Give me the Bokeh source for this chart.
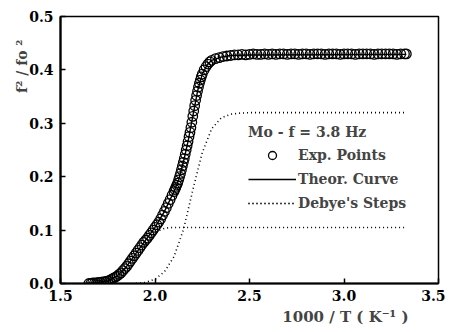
from bokeh.plotting import figure
from bokeh.models import (FixedTicker, Range1d, Legend, LegendItem, Title,
                          NumeralTickFormatter)
from bokeh.embed import file_html
from bokeh.resources import INLINE

# ---------------- data ----------------
exp_x = [1.65, 1.66, 1.67, 1.68, 1.69, 1.70, 1.71, 1.72, 1.73, 1.74,
         1.75, 1.76, 1.77, 1.78, 1.79, 1.80, 1.81, 1.82, 1.83, 1.84,
         1.85, 1.86, 1.87, 1.88, 1.89, 1.90, 1.91, 1.92, 1.93, 1.94,
         1.95, 1.96, 1.97, 1.98, 1.99, 2.00, 2.01, 2.02, 2.03, 2.04,
         2.05, 2.06, 2.07, 2.08, 2.09, 2.10,
         2.105, 2.11, 2.115, 2.12, 2.125, 2.13, 2.135, 2.14, 2.145, 2.15,
         2.155, 2.16, 2.165, 2.17, 2.175, 2.18, 2.185, 2.19, 2.195, 2.20,
         2.205, 2.21, 2.215, 2.22, 2.225, 2.23, 2.235, 2.24, 2.245, 2.25,
         2.26, 2.27, 2.28, 2.29, 2.30, 2.32, 2.34, 2.36, 2.38, 2.40,
         2.42, 2.44, 2.46, 2.48, 2.50, 2.52, 2.54, 2.56, 2.58, 2.60,
         2.62, 2.64, 2.66, 2.68, 2.70, 2.72, 2.74, 2.76, 2.78, 2.80,
         2.82, 2.84, 2.86, 2.88, 2.90, 2.92, 2.94, 2.96, 2.98, 3.00,
         3.02, 3.04, 3.06, 3.08, 3.10, 3.12, 3.14, 3.16, 3.18, 3.20,
         3.22, 3.24, 3.26, 3.28, 3.30, 3.32, 3.33]
exp_y = [0.000, 0.000, 0.001, 0.001, 0.001, 0.002, 0.002, 0.003, 0.003, 0.004,
         0.005, 0.006, 0.008, 0.010, 0.012, 0.014, 0.017, 0.020, 0.024, 0.028,
         0.032, 0.037, 0.042, 0.047, 0.052, 0.057, 0.062, 0.067, 0.072, 0.077,
         0.081, 0.085, 0.090, 0.095, 0.100, 0.105, 0.110, 0.115, 0.121, 0.128,
         0.135, 0.142, 0.150, 0.157, 0.165, 0.172,
         0.176, 0.180, 0.184, 0.188, 0.194, 0.200, 0.206, 0.213, 0.220, 0.227,
         0.234, 0.242, 0.250, 0.258, 0.266, 0.275, 0.283, 0.292, 0.302, 0.313,
         0.323, 0.333, 0.343, 0.352, 0.360, 0.368, 0.375, 0.381, 0.387, 0.392,
         0.400, 0.406, 0.411, 0.415, 0.418, 0.421, 0.423, 0.425, 0.426, 0.427,
         0.428, 0.428, 0.429, 0.428, 0.429, 0.430, 0.429, 0.429, 0.430, 0.429,
         0.430, 0.429, 0.430, 0.430, 0.429, 0.430, 0.430, 0.429, 0.430, 0.430,
         0.429, 0.430, 0.430, 0.430, 0.429, 0.430, 0.430, 0.430, 0.429, 0.430,
         0.430, 0.430, 0.429, 0.430, 0.430, 0.430, 0.430, 0.429, 0.430, 0.430,
         0.430, 0.430, 0.430, 0.429, 0.430, 0.430, 0.430]

theo_x = [1.65, 1.70, 1.75, 1.80, 1.85, 1.90, 1.95, 2.00, 2.05, 2.10,
          2.125, 2.15, 2.175, 2.20, 2.225, 2.25, 2.275, 2.30, 2.35, 2.40,
          2.50, 3.33]
theo_y = [0.000, 0.002, 0.005, 0.014, 0.032, 0.057, 0.081, 0.105, 0.135, 0.172,
          0.194, 0.227, 0.266, 0.313, 0.360, 0.392, 0.409, 0.418, 0.424, 0.427,
          0.428, 0.429]

debye1_x = [1.65, 1.70, 1.75, 1.80, 1.85, 1.90, 1.95, 2.00, 2.03, 2.06,
            2.10, 2.20, 3.33]
debye1_y = [0.001, 0.003, 0.007, 0.014, 0.030, 0.053, 0.075, 0.094, 0.101, 0.104,
            0.105, 0.105, 0.105]

debye2_x = [1.90, 1.95, 2.00, 2.05, 2.10, 2.15, 2.20, 2.25, 2.30, 2.35,
            2.40, 2.45, 2.50, 3.33]
debye2_y = [0.000, 0.002, 0.008, 0.022, 0.050, 0.100, 0.175, 0.245, 0.290, 0.310,
            0.317, 0.319, 0.320, 0.320]

x_ticks = [1.5, 2.0, 2.5, 3.0, 3.5]
y_ticks = [0.0, 0.1, 0.2, 0.3, 0.4, 0.5]

legend_title = "Mo - f = 3.8 Hz"
legend_labels = ["Exp. Points", "Theor. Curve", "Debye's Steps"]
x_label = "1000 / T ( K\u207b\u00b9 )"
y_label = "f\u00b2 / fo \u00b2"

FONT = "DejaVu Serif"

# ---------------- figure ----------------
p = figure(width=445, height=328, output_backend="svg", toolbar_location=None,
           x_range=Range1d(1.5, 3.5), y_range=Range1d(0.0, 0.5),
           min_border_left=60, min_border_right=7, min_border_top=16,
           min_border_bottom=45)
p.xgrid.visible = False
p.ygrid.visible = False
p.outline_line_color = "black"
p.outline_line_width = 1.5
p.outline_line_alpha = 1.0
p.background_fill_color = "white"
p.border_fill_color = "white"

for ax in (p.xaxis[0], p.yaxis[0]):
    ax.axis_line_width = 2.2
    ax.major_tick_in = 5
    ax.major_tick_out = 0
    ax.major_tick_line_width = 1.5
    ax.minor_tick_in = 0
    ax.minor_tick_out = 0
    ax.major_label_text_font = FONT
    ax.major_label_text_font_style = "bold"
    ax.major_label_text_font_size = "14px"
    ax.major_label_text_color = "black"
    ax.formatter = NumeralTickFormatter(format="0.0")

p.xaxis[0].ticker = FixedTicker(ticks=x_ticks)
p.yaxis[0].ticker = FixedTicker(ticks=y_ticks)
p.xaxis[0].major_label_standoff = 6
p.yaxis[0].major_label_standoff = 7

d1 = p.line(debye1_x, debye1_y, line_color="black", line_width=1.6, line_dash="1 3")
d2 = p.line(debye2_x, debye2_y, line_color="black", line_width=1.6, line_dash="1 3")
th = p.line(theo_x, theo_y, line_color="black", line_width=1.4)
ex = p.scatter(exp_x, exp_y, marker="circle", size=9.5, fill_color=None,
               line_color="black", line_width=1.3)

legend = Legend(items=[LegendItem(label=legend_labels[0], renderers=[ex]),
                       LegendItem(label=legend_labels[1], renderers=[th]),
                       LegendItem(label=legend_labels[2], renderers=[d1, d2])],
                location=(188, 70), title=legend_title,
                title_text_font=FONT, title_text_font_style="bold",
                title_text_font_size="14px", title_standoff=5,
                label_text_font=FONT, label_text_font_style="bold",
                label_text_font_size="14px",
                glyph_width=48, glyph_height=20, label_height=20,
                label_standoff=2, spacing=4, padding=0, margin=0,
                border_line_alpha=0, background_fill_alpha=0)
p.add_layout(legend)

xt = Title(text=x_label, align="right", text_font=FONT, text_font_style="bold",
           text_font_size="15px", offset=30, standoff=4)
p.add_layout(xt, "below")
yt = Title(text=y_label, align="right", text_font=FONT, text_font_style="bold",
           text_font_size="14px", offset=23, standoff=-6)
p.add_layout(yt, "left")

open("out.html", "w").write(file_html(p, INLINE))
